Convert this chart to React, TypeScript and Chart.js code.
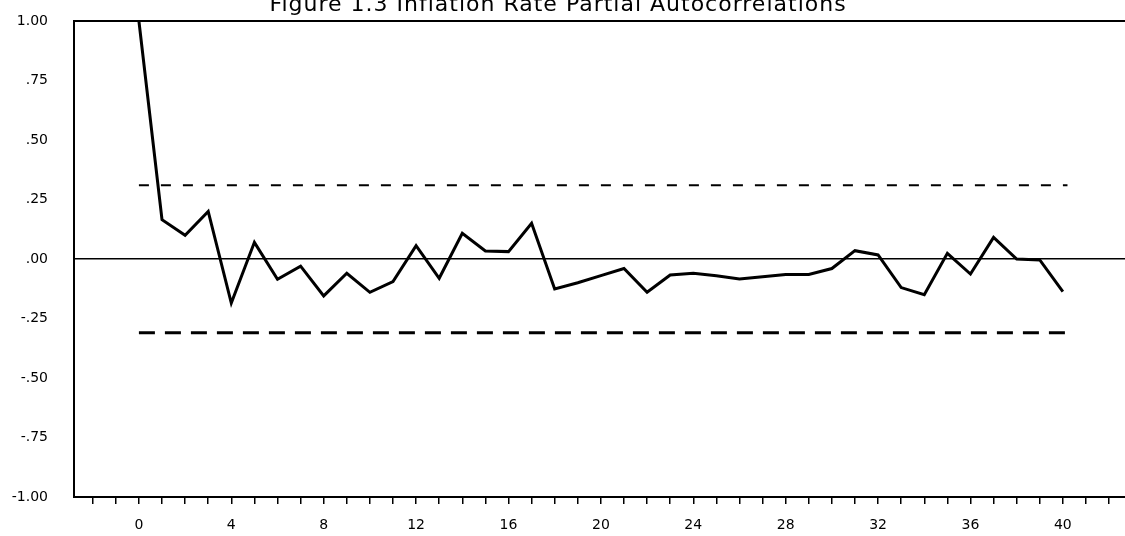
import React, { useEffect, useRef } from "react";
import { Chart, registerables } from "chart.js";

Chart.register(...registerables);

const TITLE = "Figure 1.3 Inflation Rate Partial Autocorrelations";

const LAGS = [0, 1, 2, 3, 4, 5, 6, 7, 8, 9, 10, 11, 12, 13, 14, 15, 16, 17, 18, 19, 20,
  21, 22, 23, 24, 25, 26, 27, 28, 29, 30, 31, 32, 33, 34, 35, 36, 37, 38, 39, 40];
const PACF = [1.0, 0.165, 0.10, 0.20, -0.185, 0.07, -0.085, -0.03, -0.155, -0.06, -0.14,
  -0.095, 0.056, -0.081, 0.108, 0.034, 0.031, 0.15, -0.126, -0.10, -0.07,
  -0.04, -0.14, -0.067, -0.06, -0.07, -0.084, -0.075, -0.065, -0.065, -0.04,
  0.035, 0.017, -0.12, -0.15, 0.024, -0.063, 0.091, 0.0, -0.004, -0.137];

const BAND_X = [0, 40.2];
const UPPER_BAND = [0.31, 0.31];
const LOWER_BAND = [-0.31, -0.31];

const Y_TICK_VALUES = [1, 0.75, 0.5, 0.25, 0, -0.25, -0.5, -0.75, -1];
const Y_TICK_LABELS = ["1.00", ".75", ".50", ".25", ".00", "-.25", "-.50", "-.75", "-1.00"];
const X_TICK_VALUES = [-2, -1, 0, 1, 2, 3, 4, 5, 6, 7, 8, 9, 10, 11, 12, 13, 14, 15, 16, 17, 18, 19, 20,
  21, 22, 23, 24, 25, 26, 27, 28, 29, 30, 31, 32, 33, 34, 35, 36, 37, 38, 39, 40, 41, 42];
const X_LABELED = [0, 4, 8, 12, 16, 20, 24, 28, 32, 36, 40];

const titlePlugin = {
  id: "titleText",
  afterDraw(chart: any) {
    const ctx = chart.ctx;
    ctx.save();
    ctx.fillStyle = "#000";
    ctx.font = "22px 'DejaVu Sans'";
    (ctx as any).letterSpacing = "1px";
    ctx.textAlign = "center";
    ctx.textBaseline = "alphabetic";
    ctx.fillText(TITLE, 558, 11);
    ctx.restore();
  },
};

export default function App() {
  const ref = useRef<HTMLCanvasElement | null>(null);

  useEffect(() => {
    document.body.style.margin = "0";
    document.body.style.overflow = "hidden";
    const canvas = ref.current;
    if (!canvas) return;
    const chart = new Chart(canvas, {
      type: "line",
      data: {
        datasets: [
          {
            data: LAGS.map((l, i) => ({ x: l, y: PACF[i] })),
            borderColor: "#000",
            borderWidth: 3,
            pointRadius: 0,
            tension: 0,
          },
          {
            data: BAND_X.map((x, i) => ({ x, y: UPPER_BAND[i] })),
            borderColor: "#000",
            borderWidth: 2,
            borderDash: [10, 12],
            pointRadius: 0,
          },
          {
            data: BAND_X.map((x, i) => ({ x, y: LOWER_BAND[i] })),
            borderColor: "#000",
            borderWidth: 3,
            borderDash: [16, 10],
            pointRadius: 0,
          },
        ],
      },
      options: {
        animation: false,
        responsive: true,
        maintainAspectRatio: false,
        layout: { padding: { top: 21, left: 0, right: 0, bottom: 0 } },
        plugins: {
          legend: { display: false },
          tooltip: { enabled: false },
          title: { display: false },
        },
        scales: {
          x: {
            type: "linear",
            min: -2.81,
            max: 42.69,
            afterBuildTicks: (scale: any) => {
              scale.ticks = X_TICK_VALUES.map((v) => ({ value: v }));
            },
            afterFit: (scale: any) => {
              scale.height = 39;
            },
            ticks: {
              autoSkip: false,
              maxRotation: 0,
              color: "#000",
              font: { family: "'DejaVu Sans'", size: 14 },
              padding: 13,
              callback: (v: any) => (X_LABELED.includes(v) ? String(v) : ""),
            },
            grid: {
              drawOnChartArea: false,
              drawTicks: true,
              tickLength: 7,
              color: "#000",
              lineWidth: 1.5,
            },
            border: { display: true, color: "#000", width: 2 },
          },
          y: {
            type: "linear",
            min: -1,
            max: 1,
            afterBuildTicks: (scale: any) => {
              scale.ticks = Y_TICK_VALUES.map((v) => ({ value: v }));
            },
            afterFit: (scale: any) => {
              scale.width = 74;
            },
            ticks: {
              color: "#000",
              font: { family: "'DejaVu Sans'", size: 14 },
              padding: 4,
              callback: (v: any) => {
                const i = Y_TICK_VALUES.indexOf(v);
                return i >= 0 ? Y_TICK_LABELS[i] : "";
              },
            },
            grid: {
              drawTicks: true,
              tickLength: 22,
              tickColor: "rgba(0,0,0,0)",
              color: (c: any) => (c.tick && (c.tick.value === 0 || c.tick.value === 1) ? "#000" : "rgba(0,0,0,0)"),
              lineWidth: (c: any) => (c.tick && c.tick.value === 0 ? 1.5 : 2),
            },
            border: { display: true, color: "#000", width: 2 },
          },
        },
      },
      plugins: [titlePlugin],
    });
    return () => chart.destroy();
  }, []);

  return (
    <div style={{ width: 1125, height: 536, position: "relative", background: "#fff" }}>
      <canvas ref={ref} />
    </div>
  );
}
